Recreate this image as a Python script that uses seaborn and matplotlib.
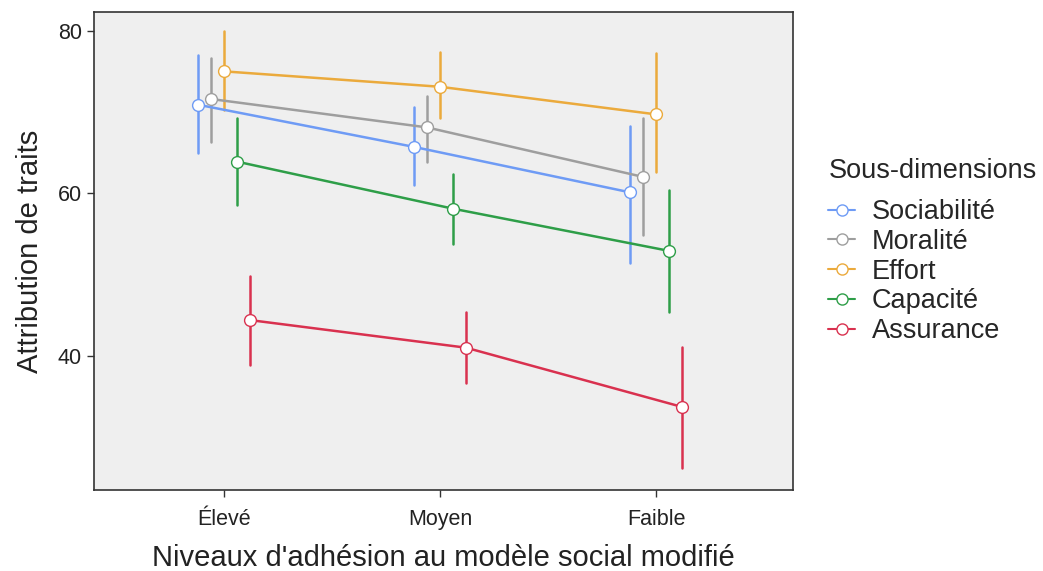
import matplotlib
matplotlib.use("Agg")
import matplotlib.pyplot as plt
import pandas as pd
import seaborn as sns
from matplotlib.lines import Line2D

niveaux = ["Élevé", "Moyen", "Faible"]
dimensions = ["Sociabilité", "Moralité", "Effort", "Capacité", "Assurance"]
couleurs = ["#6E9BF5", "#9E9E9E", "#EBAA3C", "#2E9E48", "#D9314F"]

# moyenne, borne basse, borne haute pour chaque niveau
moyennes = {
    "Sociabilité": [70.9, 65.7, 60.1],
    "Moralité": [71.6, 68.1, 62.0],
    "Effort": [75.0, 73.1, 69.7],
    "Capacité": [63.9, 58.1, 52.9],
    "Assurance": [44.4, 41.0, 33.7],
}
bas = {
    "Sociabilité": [65.0, 61.0, 51.4],
    "Moralité": [66.3, 63.9, 54.9],
    "Effort": [70.3, 69.3, 62.6],
    "Capacité": [58.6, 53.8, 45.4],
    "Assurance": [38.9, 36.7, 26.2],
}
haut = {
    "Sociabilité": [77.0, 70.6, 68.3],
    "Moralité": [76.6, 72.0, 69.3],
    "Effort": [80.0, 77.4, 77.3],
    "Capacité": [69.3, 62.4, 60.4],
    "Assurance": [49.8, 45.4, 41.1],
}

rows = []
for d in dimensions:
    for i, n in enumerate(niveaux):
        for v in (bas[d][i], moyennes[d][i], haut[d][i]):
            rows.append({"niveau": n, "dim": d, "score": v})
df = pd.DataFrame(rows)

sns.set_style("white")
plt.rcParams["font.family"] = ["Liberation Sans", "DejaVu Sans"]

fig, ax = plt.subplots(figsize=(10.43, 5.71), dpi=100)
sns.pointplot(data=df, x="niveau", y="score", hue="dim", order=niveaux,
              hue_order=dimensions, palette=couleurs, dodge=0.24,
              estimator="median", errorbar=lambda v: (v.min(), v.max()),
              markers="o", markersize=8.5, linewidth=1.8, err_kws={"linewidth": 1.8},
              markerfacecolor="white", markeredgewidth=1.0, ax=ax, legend=False)

# points au-dessus des barres d'erreur
for ln in ax.lines:
    if ln.get_marker() == "o":
        ln.set_zorder(4)

ax.set_facecolor("#EFEFEF")
ax.set_xlim(-0.6, 2.63)
ax.set_ylim(23.5, 82.3)
ax.set_yticks([40, 60, 80])
for s in ax.spines.values():
    s.set_color("#333333")
    s.set_linewidth(1.2)
ax.tick_params(axis="both", length=5, width=1, color="#333333",
               labelsize=15.5, labelcolor="#222222", bottom=True, left=True)
ax.tick_params(axis="x", pad=9)
ax.set_xlabel("Niveaux d'adhésion au modèle social modifié", fontsize=21, color="#222222", labelpad=10)
ax.set_ylabel("Attribution de traits", fontsize=21, color="#222222", labelpad=10)

handles = [Line2D([0], [0], color=c, lw=1.5, marker="o", markersize=8,
                  markerfacecolor="white", markeredgecolor=c) for c in couleurs]
leg = ax.legend(handles, dimensions, title="Sous-dimensions", loc="center left",
                bbox_to_anchor=(1.024, 0.5), frameon=False, fontsize=19.5,
                title_fontsize=19.5, handlelength=1.0, handletextpad=0.6,
                labelspacing=0.14, alignment="left", borderaxespad=0.3)
leg._legend_box.sep = 11

fig.subplots_adjust(left=0.09, right=0.76, top=0.979, bottom=0.142)
fig.savefig("out.png")
